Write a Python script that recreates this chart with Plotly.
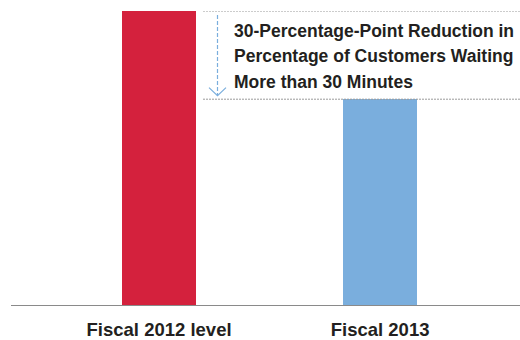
import plotly.graph_objects as go

categories = ["Fiscal 2012 level", "Fiscal 2013"]
values = [100, 70]
bar_colors = ["#d4213d", "#7aaedd"]
note_lines = [
    "30-Percentage-Point Reduction in",
    "Percentage of Customers Waiting",
    "More than 30 Minutes",
]

W, H = 520, 340
ML, MR, MT, MB = 11, 0, 11, 35
plot_h = H - MT - MB

fig = go.Figure()
fig.add_trace(go.Bar(
    x=[0, 1], y=values, width=0.335,
    marker=dict(color=bar_colors, line=dict(width=0)),
    hoverinfo="skip",
))

# dotted reference lines at the two levels
for v in values:
    fig.add_shape(type="line", xref="paper", yref="y",
                  x0=(203 - ML) / (W - ML), x1=1, y0=v, y1=v,
                  line=dict(color="#9a9a9a", width=1, dash="2px,1px"))

arrow_x = (217.5 - ML) / (W - ML)
top, bottom = values[0], values[1]
span = top - bottom
fig.add_shape(type="line", xref="paper", yref="y",
              x0=arrow_x, x1=arrow_x, y0=top - span * 0.045, y1=bottom + span * 0.04,
              line=dict(color="#7aaedd", width=1.2, dash="4px,2px"))
# chevron head
fig.add_shape(type="path", xref="paper", yref="y",
              xsizemode="pixel", ysizemode="pixel",
              xanchor=arrow_x, yanchor=bottom + span * 0.04,
              path="M -8.5 8 L 0 0 L 8.5 8",
              line=dict(color="#7aaedd", width=1.2))

line_px = [30.5, 56, 82]
for txt, yp in zip(note_lines, line_px):
    fig.add_annotation(text=txt, xref="paper", yref="paper",
                       x=(232 - ML) / (W - ML), y=(H - MB - yp) / plot_h,
                       xanchor="left", yanchor="middle", showarrow=False,
                       font=dict(family="Liberation Sans, Arial", size=17.5, color="#231f20", weight="bold"))

fig.update_layout(
    width=W, height=H,
    margin=dict(l=ML, r=MR, t=MT, b=MB, pad=0),
    paper_bgcolor="white", plot_bgcolor="white",
    showlegend=False,
    bargap=0,
)
fig.update_xaxes(
    range=[-0.67, 1.633], tickmode="array", tickvals=[0, 1], ticktext=categories,
    showgrid=False, zeroline=False, showline=True, linecolor="#8a8a8a", linewidth=1,
    ticks="", ticklabelstandoff=8, automargin=False,
    tickfont=dict(family="Liberation Sans, Arial", size=18.5, color="#231f20", weight="bold"),
)
fig.update_yaxes(range=[0, 100], visible=False, automargin=False)

fig.write_html("out.html", config={"displayModeBar": False})
